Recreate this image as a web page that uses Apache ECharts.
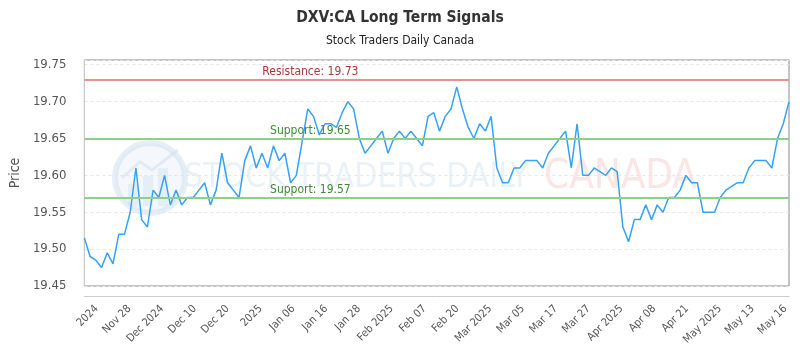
<!DOCTYPE html>
<html><head><meta charset="utf-8">
<script src="https://cdn.jsdelivr.net/npm/echarts@6/dist/echarts.min.js"></script>
<style>html,body{margin:0;padding:0;background:#fff}#c{width:800px;height:350px}</style>
</head><body><div id="c"></div>
<script>
const chartTitle = 'DXV:CA Long Term Signals';
const chartSubtitle = 'Stock Traders Daily Canada';
const yAxisName = 'Price';

// daily closing prices, oldest to newest
const prices = [
  19.515, 19.49, 19.485, 19.475, 19.495, 19.48, 19.52, 19.52, 19.55, 19.61,
  19.54, 19.53, 19.58, 19.57, 19.60, 19.56, 19.58, 19.56, 19.57, 19.57,
  19.58, 19.59, 19.56, 19.58, 19.63, 19.59, 19.58, 19.57, 19.62, 19.64,
  19.61, 19.63, 19.61, 19.64, 19.62, 19.63, 19.59, 19.60, 19.645, 19.69,
  19.68, 19.655, 19.67, 19.67, 19.665, 19.685, 19.70, 19.69, 19.65, 19.63,
  19.64, 19.65, 19.66, 19.63, 19.65, 19.66, 19.65, 19.66, 19.65, 19.64,
  19.68, 19.685, 19.66, 19.68, 19.69, 19.72, 19.69, 19.665, 19.65, 19.67,
  19.66, 19.68, 19.61, 19.59, 19.59, 19.61, 19.61, 19.62, 19.62, 19.62,
  19.61, 19.63, 19.64, 19.65, 19.66, 19.61, 19.67, 19.60, 19.60, 19.61,
  19.605, 19.60, 19.61, 19.605, 19.53, 19.51, 19.54, 19.54, 19.56, 19.54,
  19.56, 19.55, 19.57, 19.57, 19.58, 19.60, 19.59, 19.59, 19.55, 19.55,
  19.55, 19.57, 19.58, 19.585, 19.59, 19.59, 19.61, 19.62, 19.62, 19.62,
  19.61, 19.65, 19.67, 19.70
];

const xLabels = ['2024', 'Nov 28', 'Dec 2024', 'Dec 10', 'Dec 20', '2025', 'Jan 06', 'Jan 16',
  'Jan 28', 'Feb 2025', 'Feb 07', 'Feb 20', 'Mar 2025', 'Mar 05', 'Mar 17', 'Mar 27',
  'Apr 2025', 'Apr 08', 'Apr 21', 'May 2025', 'May 13', 'May 16'];

const resistanceLevels = [19.73];
const supportLevels = [19.65, 19.57];

const yMin = 19.45;
const yTickStep = 0.05;
const yTop = 19.7564;

// label placement along the x axis (in point-index units)
const xLabelFirst = 2.13;
const xLabelStep = 5.726;
const xLabelPositions = xLabels.map((_, k) => xLabelFirst + k * xLabelStep);

const FONT = "'Liberation Sans Narrow', 'DejaVu Sans Condensed', 'Roboto', sans-serif";

const chart = echarts.init(document.getElementById('c'), null, { renderer: 'canvas' });

const markLineData = [];
resistanceLevels.forEach(v => markLineData.push({
  yAxis: v,
  lineStyle: { color: '#e89090', width: 2, type: 'solid' },
  label: { formatter: 'Resistance: ' + v.toFixed(2), color: '#a83838' }
}));
supportLevels.forEach(v => markLineData.push({
  yAxis: v,
  lineStyle: { color: '#8fcf8a', width: 2, type: 'solid' },
  label: { formatter: 'Support: ' + v.toFixed(2), color: '#3f8a35' }
}));

const option = {
  animation: false,
  backgroundColor: '#fff',
  textStyle: { fontFamily: FONT },
  title: {
    text: chartTitle,
    subtext: chartSubtitle,
    left: 'center',
    top: 5,
    itemGap: 9,
    textStyle: { fontFamily: FONT, fontSize: 15.5, fontWeight: 'bold', color: '#333' },
    subtextStyle: { fontFamily: FONT, fontSize: 12, color: '#222' }
  },
  grid: {
    left: 77, right: 11, top: 60, height: 226,
    show: true, borderColor: '#888', borderWidth: 1, backgroundColor: 'transparent'
  },
  graphic: [
    { type: 'circle', z: 0, silent: true, shape: { cx: 150, cy: 178, r: 35 },
      style: { fill: 'rgba(220,233,244,0.3)', stroke: 'rgba(205,222,237,0.5)', lineWidth: 6 } },
    { type: 'rect', z: 0, silent: true, shape: { x: 128, y: 184, width: 10, height: 22 }, style: { fill: 'rgba(205,222,237,0.4)' } },
    { type: 'rect', z: 0, silent: true, shape: { x: 143, y: 176, width: 10, height: 30 }, style: { fill: 'rgba(205,222,237,0.4)' } },
    { type: 'rect', z: 0, silent: true, shape: { x: 158, y: 168, width: 10, height: 38 }, style: { fill: 'rgba(205,222,237,0.4)' } },
    { type: 'polyline', z: 0, silent: true, shape: { points: [[122, 178], [140, 162], [152, 170], [178, 150]] },
      style: { stroke: 'rgba(205,222,237,0.5)', lineWidth: 3, fill: null } },
    { type: 'text', z: 0, silent: true, x: 184, y: 178,
      style: { text: 'STOCK TRADERS DAILY', font: "33.5px " + FONT, fill: 'rgba(205,222,237,0.42)', verticalAlign: 'middle' } },
    { type: 'text', z: 0, silent: true, x: 544, y: 178,
      style: { text: 'CANADA', font: "40px " + FONT, fill: 'rgba(245,180,180,0.35)', verticalAlign: 'middle' } }
  ],
  xAxis: {
    type: 'value',
    min: 0,
    max: prices.length - 1,
    offset: 10,
    axisLine: { show: true, lineStyle: { color: '#ccc' } },
    axisTick: { show: false },
    splitLine: { show: false },
    axisLabel: {
      customValues: xLabelPositions,
      rotate: 45,
      margin: 11,
      fontSize: 11,
      color: '#555',
      fontFamily: FONT,
      formatter: function (v) {
        const k = Math.round((v - xLabelFirst) / xLabelStep);
        return xLabels[k] !== undefined ? xLabels[k] : '';
      }
    }
  },
  yAxis: {
    type: 'value',
    min: yMin,
    max: yTop,
    interval: yTickStep,
    offset: 10,
    name: yAxisName,
    nameLocation: 'middle',
    nameGap: 47,
    nameTextStyle: { fontSize: 14, color: '#555', fontFamily: FONT },
    axisLine: { show: true, lineStyle: { color: '#ccc' } },
    axisTick: { show: false },
    splitLine: { show: true, lineStyle: { color: '#e6e6e6', type: [3, 3] } },
    axisLabel: {
      fontSize: 13,
      color: '#555',
      fontFamily: FONT,
      margin: 8,
      formatter: function (v) {
        const r = (v - yMin) / yTickStep;
        return Math.abs(r - Math.round(r)) < 1e-6 ? v.toFixed(2) : '';
      }
    }
  },
  series: [{
    type: 'line',
    data: prices.map((v, i) => [i, v]),
    showSymbol: false,
    symbol: 'none',
    lineStyle: { color: '#36a2f5', width: 1.5 },
    itemStyle: { color: '#36a2f5' },
    z: 3,
    markLine: {
      silent: true,
      symbol: ['none', 'none'],
      animation: false,
      label: {
        show: true,
        position: 'insideStartTop',
        distance: [226, 2],
        align: 'center',
        fontSize: 12,
        fontFamily: FONT
      },
      data: markLineData
    }
  }]
};

chart.setOption(option);
</script>
</body></html>
